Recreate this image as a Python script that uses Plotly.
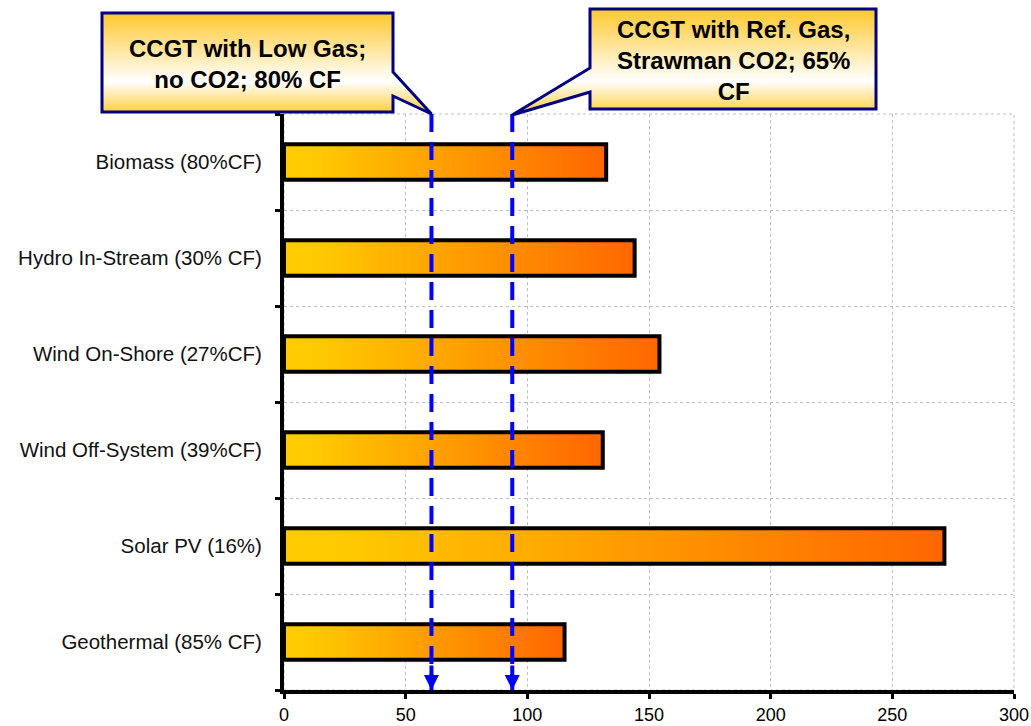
import base64
import plotly.graph_objects as go

# levelised cost by technology, top to bottom
categories = [
    "Biomass (80%CF)",
    "Hydro In-Stream (30% CF)",
    "Wind On-Shore (27%CF)",
    "Wind Off-System (39%CF)",
    "Solar PV (16%)",
    "Geothermal (85% CF)",
]
values = [132.4, 144.1, 154.3, 131.0, 271.4, 115.3]

# CCGT reference levels (dashed lines) and their callout texts
ref_values = [60.6, 93.8]
ref_labels = [
    "<b>CCGT with Low Gas;<br>no CO2; 80% CF</b>",
    "<b>CCGT with Ref. Gas,<br>Strawman CO2; 65%<br>CF</b>",
]

x_ticks = [0, 50, 100, 150, 200, 250, 300]

W, H = 1031, 726
L, R, T, B = 284, 17, 114, 36
PW, PH = W - L - R, H - T - B
XMAX = x_ticks[-1]
FONT = "Liberation Sans, Arial, sans-serif"
HALF = 0.185  # half bar thickness in category units

fig = go.Figure()

# bars: filled polygons so they can carry a horizontal gradient
for i, (cat, v) in enumerate(zip(categories, values)):
    fig.add_trace(go.Scatter(
        x=[0, v, v, 0, 0],
        y=[i - HALF, i - HALF, i + HALF, i + HALF, i - HALF],
        mode="lines",
        fill="toself",
        fillgradient=dict(type="horizontal",
                          colorscale=[[0, "#FFCC00"], [0.1, "#FFC900"], [1, "#FF6600"]]),
        line=dict(color="black", width=4),
        name=cat,
        hoverinfo="text",
        hovertext=f"{cat}: {v:.0f}",
        showlegend=False,
    ))

# dashed CCGT reference lines
for v in ref_values:
    fig.add_trace(go.Scatter(
        x=[v, v], y=[-0.5, 5.5],
        mode="lines",
        line=dict(color="#0000FF", width=4, dash="18px,10px"),
        hoverinfo="skip", showlegend=False,
    ))
    fig.add_annotation(
        x=v, y=5.5, xref="x", yref="y", text="",
        showarrow=True, ax=0, ay=-26, arrowhead=2, arrowsize=0.75,
        arrowwidth=4, arrowcolor="#0000FF", standoff=0,
    )

# dotted frame on top / right of the plot area
fig.add_shape(type="rect", xref="paper", yref="paper", x0=0, x1=1, y0=0, y1=1,
              line=dict(color="#C0C0C0", width=1, dash="dot"), layer="below")


# callout boxes drawn as one svg overlay, in figure pixels
def px(v):
    return L + v / XMAX * PW


t1, t2 = px(ref_values[0]), px(ref_values[1])
svg = f"""<svg xmlns='http://www.w3.org/2000/svg' width='{W}' height='{H}' viewBox='0 0 {W} {H}'>
<defs><linearGradient id='g' x1='0' y1='0' x2='0' y2='1'>
<stop offset='0' stop-color='#FFC82E'/><stop offset='0.68' stop-color='#FFFFFF'/>
<stop offset='1' stop-color='#FFCC33'/></linearGradient></defs>
<path d='M102,13 H393 V72 L{t1:.1f},{T} L393,96 V112 H102 Z' fill='url(#g)' stroke='#000080' stroke-width='3'/>
<path d='M590,9 H876 V109 H590 V92 L{t2:.1f},{T + 1} L590,68 Z' fill='url(#g)' stroke='#000080' stroke-width='3'/>
</svg>"""
src = "data:image/svg+xml;base64," + base64.b64encode(svg.encode()).decode()
fig.add_layout_image(
    source=src, xref="paper", yref="paper",
    x=-L / PW, y=(H - B) / PH, sizex=W / PW, sizey=H / PH,
    xanchor="left", yanchor="top", sizing="stretch", layer="above",
)

for text, (cx, cy) in zip(ref_labels, [(247.5, 64), (733, 60)]):
    fig.add_annotation(
        x=(cx - L) / PW, y=(H - B - cy) / PH, xref="paper", yref="paper",
        text=text, showarrow=False, xanchor="center", yanchor="middle",
        font=dict(family=FONT, size=24, color="black"),
    )

fig.update_layout(
    width=W, height=H,
    margin=dict(l=L, r=R, t=T, b=B, autoexpand=False),
    paper_bgcolor="white", plot_bgcolor="white",
    font=dict(family=FONT, color="black"),
    xaxis=dict(
        range=[0, XMAX], tickvals=x_ticks, automargin=False,
        ticks="outside", ticklen=5, tickwidth=3, tickcolor="black",
        showline=True, linewidth=4, linecolor="black",
        showgrid=True, gridcolor="#C0C0C0", griddash="dot", gridwidth=1,
        zeroline=False, tickfont=dict(size=18, color="black"),
    ),
    yaxis=dict(
        range=[5.5, -0.5], automargin=False,
        tickvals=list(range(len(categories))), ticktext=categories,
        ticks="", showgrid=False, zeroline=False,
        showline=True, linewidth=4, linecolor="black",
        ticklabelstandoff=14,
        tickfont=dict(size=20.5, color="#111111"),
        minor=dict(
            tickvals=[k - 0.5 for k in range(len(categories) + 1)],
            ticks="outside", ticklen=5, tickwidth=3, tickcolor="black",
            showgrid=True, gridcolor="#C0C0C0", griddash="dot", gridwidth=1,
        ),
    ),
)

# drop the page's default body margin so the figure fills the window exactly
fig.write_html("out.html", config={"displayModeBar": False},
               post_script="document.body.style.margin='0';document.body.style.overflow='hidden';")
